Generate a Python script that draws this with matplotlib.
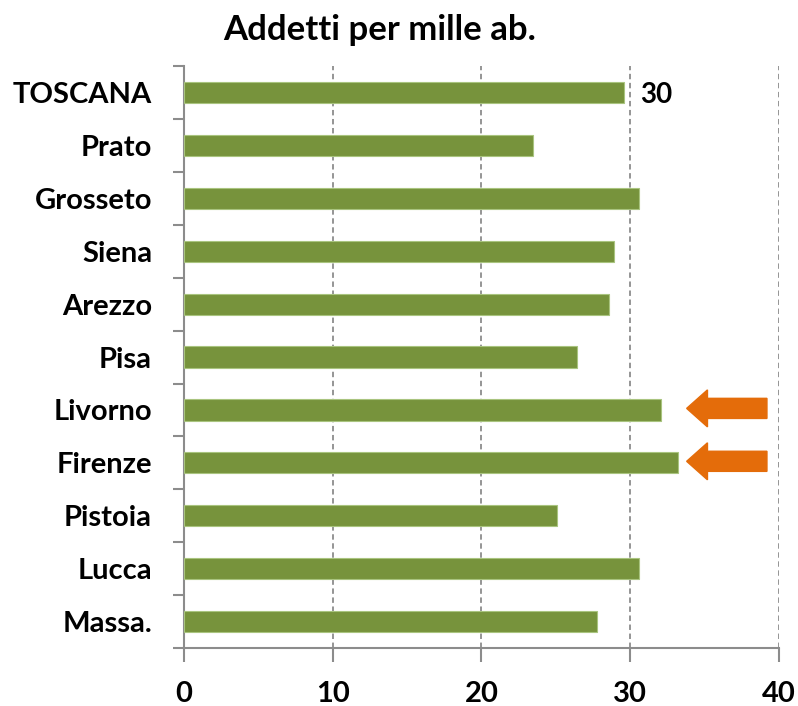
import numpy as np
import matplotlib.pyplot as plt
from matplotlib.patches import FancyArrow

plt.rcParams['font.family'] = ['Lato', 'DejaVu Sans']

# categories from bottom to top
province = ['Massa.', 'Lucca', 'Pistoia', 'Firenze', 'Livorno', 'Pisa',
            'Arezzo', 'Siena', 'Grosseto', 'Prato', 'TOSCANA']
addetti = [27.8, 30.6, 25.1, 33.2, 32.1, 26.4, 28.6, 28.9, 30.6, 23.5, 29.6]
evidenziate = ['Firenze', 'Livorno']
xticks = [0, 10, 20, 30, 40]

fig = plt.figure(figsize=(7.98, 7.06), dpi=100)
ax = fig.add_axes([0.2306, 0.082, 0.7454, 0.8245])

y = np.arange(len(province))
ax.barh(y, addetti, height=0.4, color='#77933C', edgecolor='#A9C47F', linewidth=0.8, zorder=3)

ax.set_xlim(0, 40)
ax.set_ylim(-0.5, len(province) - 0.5)
ax.set_xticks(xticks)
ax.set_xticklabels([str(t) for t in xticks], fontsize=21, fontweight='bold')
ax.set_yticks(y)
ax.set_yticklabels(province, fontsize=21, fontweight='bold')
ax.tick_params(axis='y', length=0, pad=23)
ax.set_yticks(np.arange(-0.5, len(province), 1), minor=True)
ax.tick_params(axis='y', which='minor', length=8, width=1.5, color='#8C8C8C')
ax.tick_params(axis='x', length=10, width=1.5, color='#8C8C8C', pad=14)

ax.grid(axis='x', linestyle=(0, (3, 2)), color='#8C8C8C', linewidth=1.3, zorder=1)
for s in ['top', 'right']:
    ax.spines[s].set_visible(False)
for s in ['left', 'bottom']:
    ax.spines[s].set_color('#8C8C8C')
    ax.spines[s].set_linewidth(1.5)

# etichetta valore regionale
ax.text(30.7, y[-1] - 0.05, str(round(addetti[-1])), fontsize=20, fontweight='bold',
        va='center', ha='left')

# frecce sulle province evidenziate
for p in evidenziate:
    i = province.index(p)
    ax.add_patch(FancyArrow(39.2, y[i] + 0.03, -5.4, 0, width=0.38, head_width=0.7,
                            head_length=1.4, length_includes_head=True,
                            color='#E46C0A', zorder=4, clip_on=False))

fig.text(0.476, 0.958, 'Addetti per mille ab.', fontsize=25, fontweight='bold',
         ha='center', va='center')

fig.savefig('out.png', dpi=100)
